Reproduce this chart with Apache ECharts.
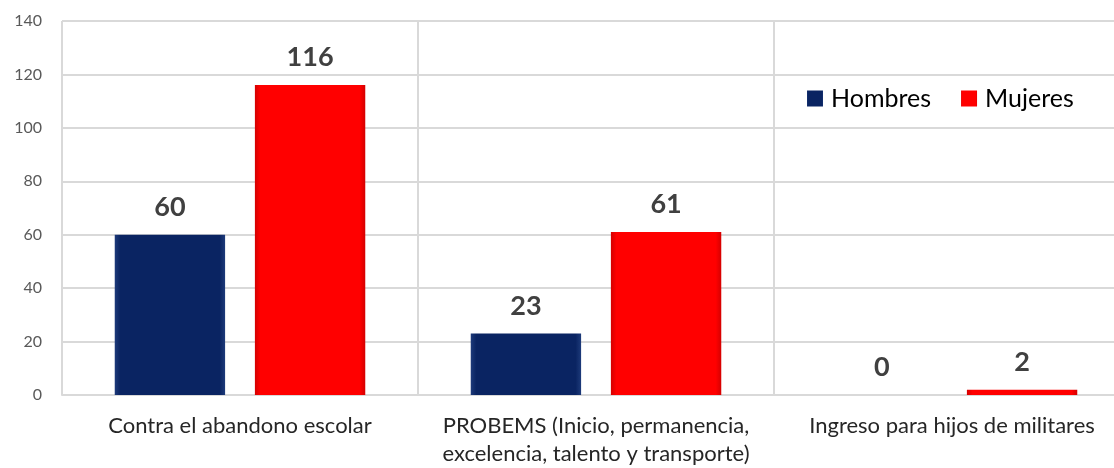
<!DOCTYPE html>
<html>
<head>
<meta charset="utf-8">
<script src="https://cdn.jsdelivr.net/npm/echarts@6/dist/echarts.min.js"></script>
<style>
  html, body { margin: 0; padding: 0; background: #fff; overflow: hidden; }
  #chart { width: 1130px; height: 468px; }
</style>
</head>
<body>
<div id="chart"></div>
<script>
var categories = [
  'Contra el abandono escolar',
  'PROBEMS (Inicio, permanencia,\nexcelencia, talento y transporte)',
  'Ingreso para hijos de militares'
];
var hombres = [60, 23, 0];
var mujeres = [116, 61, 2];
var yTicks = [0, 20, 40, 60, 80, 100, 120, 140];

var chartDom = document.getElementById('chart');
var myChart = echarts.init(chartDom);
var fontFam = 'Lato, "Liberation Sans", sans-serif';

// slight bevel look on the edges of the bars
function barColor(mid, edge) {
  return new echarts.graphic.LinearGradient(0, 0, 1, 0, [
    { offset: 0, color: edge },
    { offset: 0.05, color: mid },
    { offset: 0.95, color: mid },
    { offset: 1, color: edge }
  ]);
}

var labelStyle = {
  show: true,
  position: 'top',
  distance: 14,
  fontSize: 27,
  fontWeight: 'bold',
  color: '#404040',
  fontFamily: fontFam
};

var option = {
  backgroundColor: '#fff',
  animation: false,
  textStyle: { fontFamily: fontFam },
  legend: {
    left: 802,
    top: 81,
    itemWidth: 16,
    itemHeight: 16,
    itemGap: 30,
    icon: 'rect',
    data: ['Hombres', 'Mujeres'],
    textStyle: { fontSize: 25, color: '#000', fontFamily: fontFam, padding: [0, 0, 0, 3] }
  },
  grid: {
    left: 62,
    top: 21,
    right: 0,
    height: 376,
    containLabel: false
  },
  xAxis: {
    type: 'category',
    data: categories,
    axisLine: { lineStyle: { color: '#d9d9d9', width: 2 } },
    axisTick: { show: false },
    splitLine: { show: true, lineStyle: { color: '#d9d9d9', width: 2 } },
    axisLabel: {
      color: '#262626',
      fontSize: 22,
      margin: 17,
      lineHeight: 28,
      interval: 0,
      fontFamily: fontFam
    }
  },
  yAxis: {
    type: 'value',
    min: yTicks[0],
    max: yTicks[yTicks.length - 1],
    interval: 20,
    axisLine: { show: false },
    axisTick: { show: false },
    splitLine: { lineStyle: { color: '#d9d9d9', width: 2 } },
    axisLabel: { color: '#595959', fontSize: 16, margin: 20, fontFamily: fontFam }
  },
  series: [
    {
      name: 'Hombres',
      type: 'bar',
      data: hombres,
      barWidth: '31%',
      barGap: '27%',
      itemStyle: { color: barColor('#0a2462', '#1d3a7a') },
      label: labelStyle
    },
    {
      name: 'Mujeres',
      type: 'bar',
      data: mujeres,
      barWidth: '31%',
      itemStyle: { color: barColor('#ff0000', '#d40000') },
      label: labelStyle
    }
  ]
};

myChart.setOption(option);
</script>
</body>
</html>
